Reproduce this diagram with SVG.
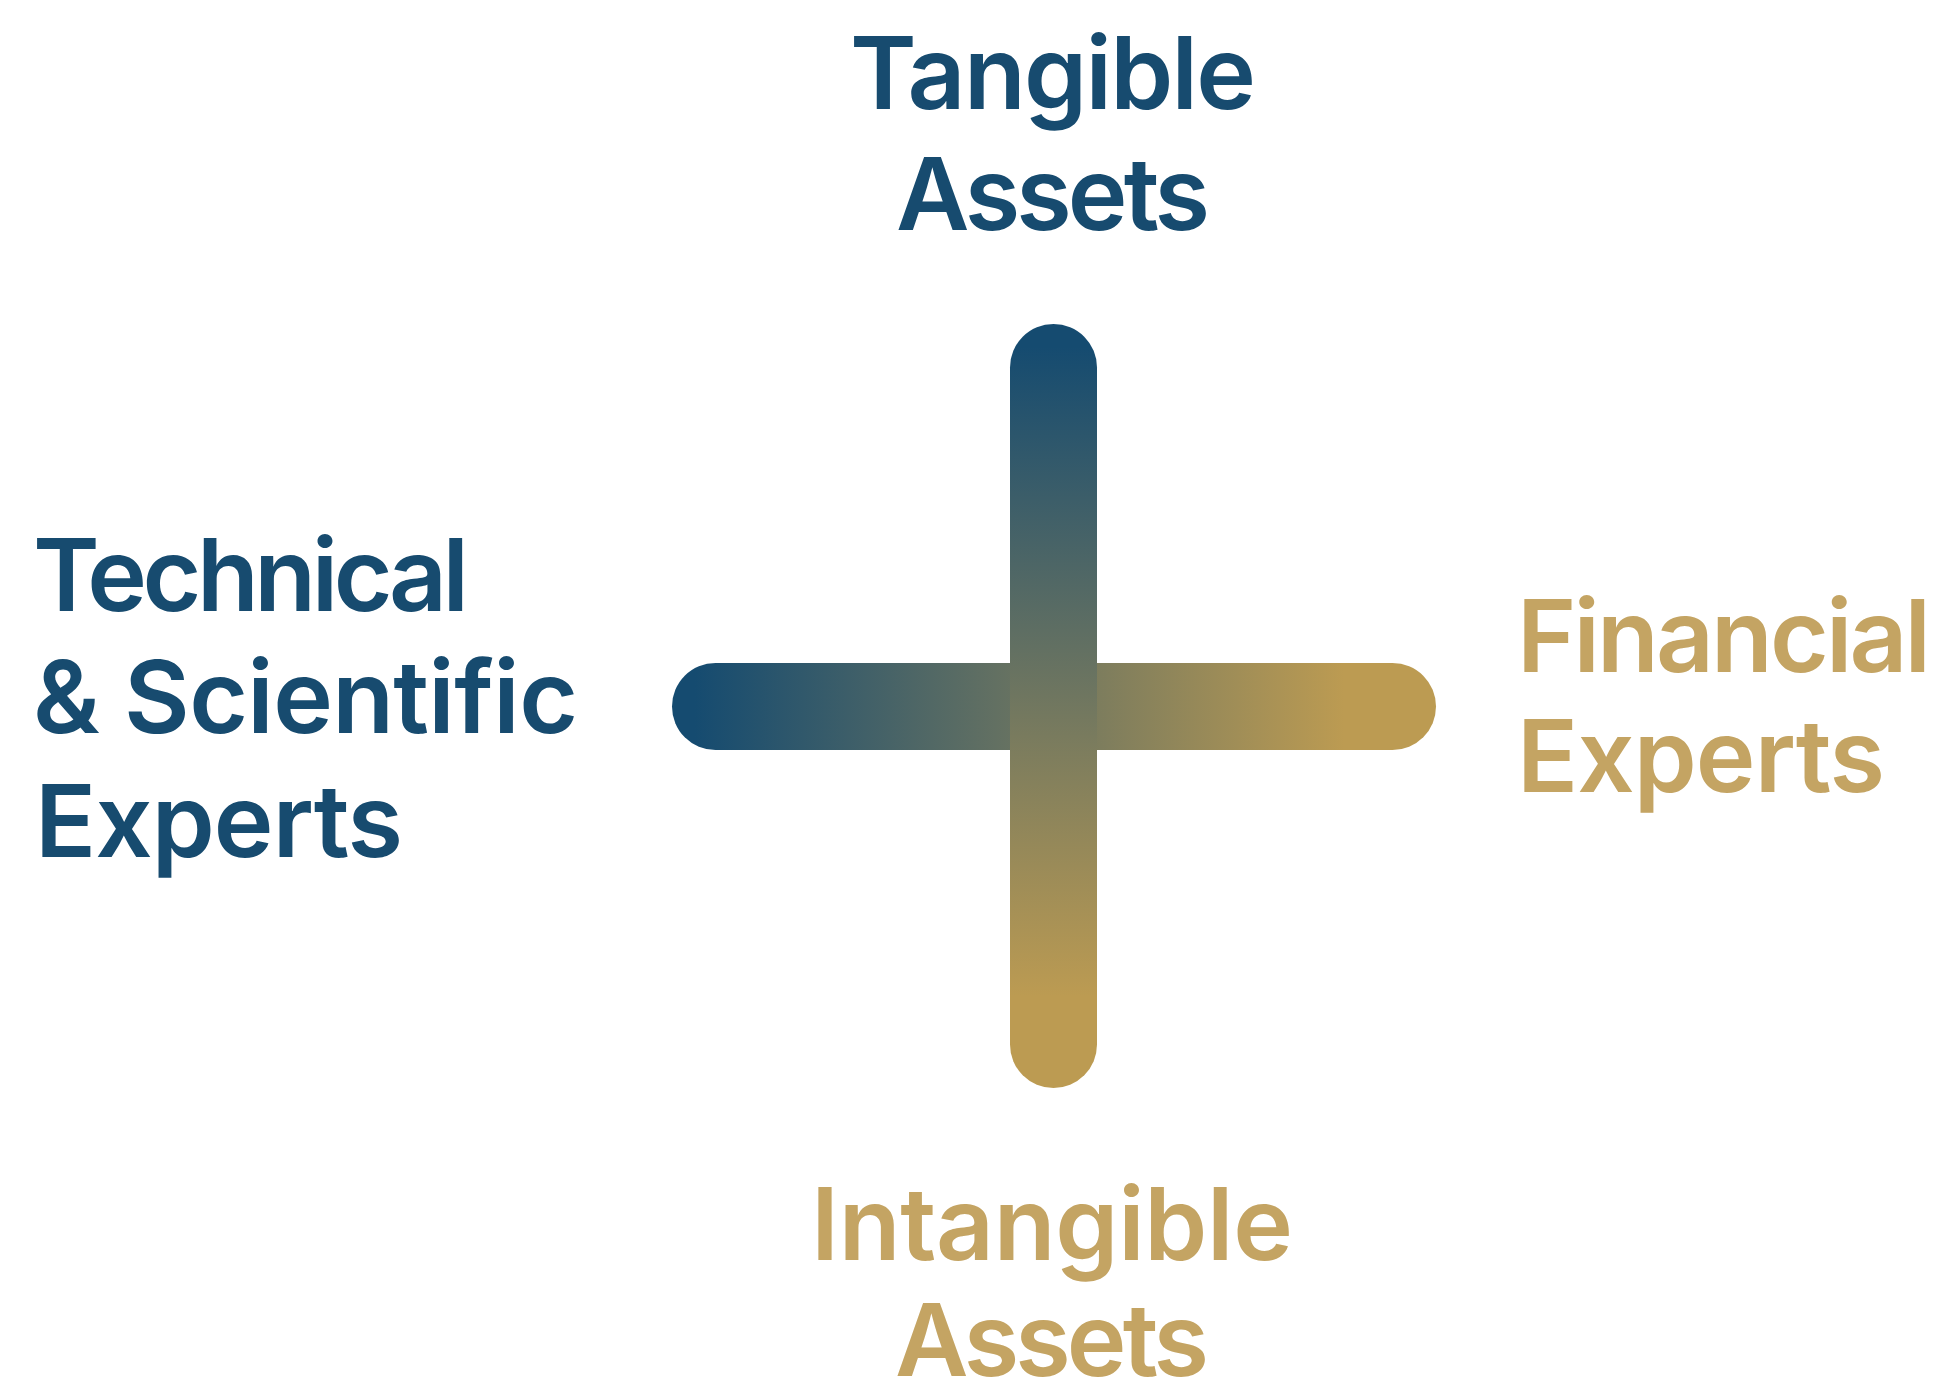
<svg xmlns="http://www.w3.org/2000/svg" width="1944" height="1383" viewBox="0 0 1944 1383">
  <defs>
    <linearGradient id="gradV" gradientUnits="userSpaceOnUse" x1="0" y1="324" x2="0" y2="1088">
      <stop offset="0.03" stop-color="#154b70"/>
      <stop offset="0.88" stop-color="#bc9b52"/>
    </linearGradient>
    <linearGradient id="gradH" gradientUnits="userSpaceOnUse" x1="672" y1="0" x2="1436" y2="0">
      <stop offset="0.03" stop-color="#154b70"/>
      <stop offset="0.88" stop-color="#bc9b52"/>
    </linearGradient>
  </defs>
  <style>
    .lbl { font-family: "Inter", "Lato", "Liberation Sans", sans-serif; font-weight: 600; font-size: 101px; font-variant-ligatures: none; }
    .blue { fill: #174b6f; }
    .gold { fill: #c4a463; }
  </style>
  <rect x="0" y="0" width="1944" height="1383" fill="#ffffff"/>
  <g id="cross">
    <rect x="672" y="663" width="764" height="87" rx="43.5" ry="43.5" fill="url(#gradH)"/>
    <rect x="1010" y="324" width="87" height="764" rx="43.5" ry="43.5" fill="url(#gradV)"/>
  </g>
  <g id="tangible-assets">
    <text class="lbl blue" x="1053" y="109" text-anchor="middle" textLength="406" lengthAdjust="spacing">Tangible</text>
    <text class="lbl blue" x="1053" y="230" text-anchor="middle" textLength="314" lengthAdjust="spacing">Assets</text>
  </g>
  <g id="technical-scientific-experts">
    <text class="lbl blue" x="33" y="611" textLength="436" lengthAdjust="spacing">Technical</text>
    <text class="lbl blue" x="33" y="733" textLength="545" lengthAdjust="spacing">&amp; Scientific</text>
    <text class="lbl blue" x="35" y="857" textLength="368" lengthAdjust="spacing">Experts</text>
  </g>
  <g id="financial-experts">
    <text class="lbl gold" x="1517" y="672" textLength="414" lengthAdjust="spacing">Financial</text>
    <text class="lbl gold" x="1517" y="792" textLength="368" lengthAdjust="spacing">Experts</text>
  </g>
  <g id="intangible-assets">
    <text class="lbl gold" x="1052" y="1260" text-anchor="middle" textLength="482" lengthAdjust="spacing">Intangible</text>
    <text class="lbl gold" x="1052" y="1376" text-anchor="middle" textLength="314" lengthAdjust="spacing">Assets</text>
  </g>
  <g id="connectors"/>
</svg>
